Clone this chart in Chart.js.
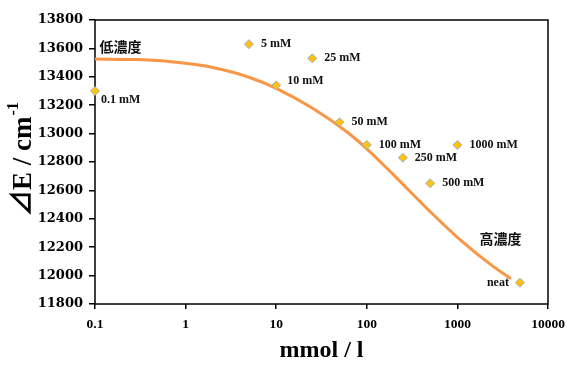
<!DOCTYPE html>
<html>
<head>
<meta charset="utf-8">
<script src="https://cdn.jsdelivr.net/npm/chart.js@4.4.0/dist/chart.umd.min.js"></script>
<style>
  html, body { margin: 0; padding: 0; background: #fff; }
  #wrap { width: 567px; height: 367px; }
</style>
</head>
<body>
<div id="wrap"><canvas id="chart"></canvas></div>
<script>
// measured samples
const sampleLabels = ['0.1 mM', '5 mM', '10 mM', '25 mM', '50 mM', '100 mM', '250 mM', '500 mM', '1000 mM', 'neat'];
const sampleConc = [0.1, 5, 10, 25, 50, 100, 250, 500, 1000, 4900];
const sampleDeltaE = [13300, 13630, 13340, 13530, 13080, 12920, 12830, 12650, 12920, 11950];

// trend curve
const fitConc = [0.1, 0.3, 1, 2, 5, 10, 25, 60, 100, 200, 500, 1000, 2500, 3900];
const fitDeltaE = [13525, 13521, 13495, 13465, 13397, 13319, 13180, 13013, 12893, 12706, 12451, 12270, 12063, 11978];

// axes
const xTicks = [0.1, 1, 10, 100, 1000, 10000];
const yMin = 11800, yMax = 13800, yStep = 200;

// text notes
const lowNote = { text: '低濃度', x: 0.112, y: 13610 };
const highNote = { text: '高濃度', x: 1750, y: 12258 };

const serif = '"Liberation Serif", "Times New Roman", serif';
const cjk = '"Noto Sans CJK JP", "Noto Sans CJK SC", sans-serif';

// label offsets from the point: [dx, dy, align]
const labelPos = { '0.1 mM': [6, 9, 'left'], '10 mM': [11, -4, 'left'], 'neat': [-11, 0, 'right'] };

const extras = {
    id: 'extras',
    beforeDatasetsDraw(chart) {
        const { ctx, chartArea: a } = chart;
        ctx.save();
        ctx.strokeStyle = '#000';
        ctx.lineWidth = 1.5;
        ctx.strokeRect(a.left, a.top, a.right - a.left, a.bottom - a.top);
        ctx.restore();
    },
    afterDatasetsDraw(chart) {
        const { ctx, scales } = chart;
        const meta = chart.getDatasetMeta(1);
        ctx.save();
        ctx.fillStyle = '#111';
        ctx.font = 'bold 12px ' + serif;
        ctx.textBaseline = 'middle';
        meta.data.forEach((pt, i) => {
            const off = labelPos[sampleLabels[i]] || [12, 0, 'left'];
            ctx.textAlign = off[2];
            ctx.fillText(sampleLabels[i], pt.x + off[0], pt.y + off[1]);
        });

        ctx.font = 'bold 14px ' + cjk;
        ctx.textAlign = 'left';
        [lowNote, highNote].forEach(n => {
            ctx.fillText(n.text, scales.x.getPixelForValue(n.x), scales.y.getPixelForValue(n.y));
        });

        // y axis title with superscript
        const titleFont = '"Liberation Serif", "Noto Sans CJK JP", serif';
        const main = '⊿E / cm';
        const sup = '-1';
        ctx.translate(22, 160);
        ctx.rotate(-Math.PI / 2);
        ctx.font = 'bold 27px ' + titleFont;
        const w1 = ctx.measureText(main).width;
        ctx.font = 'bold 16px ' + serif;
        const w2 = ctx.measureText(sup).width;
        const start = -(w1 + w2) / 2;
        ctx.fillStyle = '#000';
        ctx.font = 'bold 27px ' + titleFont;
        ctx.textBaseline = 'alphabetic';
        ctx.fillText(main, start, 9);
        ctx.font = 'bold 16px ' + serif;
        ctx.fillText(sup, start + w1 + 1, -4);
        ctx.restore();
    }
};

const ctx = document.getElementById('chart').getContext('2d');
const chart = new Chart(ctx, {
    type: 'scatter',
    data: {
        datasets: [{
            label: 'fit',
            type: 'line',
            data: fitConc.map((c, i) => ({ x: c, y: fitDeltaE[i] })),
            borderColor: '#F79646',
            borderWidth: 3,
            pointRadius: 0,
            cubicInterpolationMode: 'monotone',
            fill: false,
            order: 2
        }, {
            label: 'samples',
            data: sampleConc.map((c, i) => ({ x: c, y: sampleDeltaE[i] })),
            pointStyle: 'rectRot',
            pointRadius: 4.5,
            backgroundColor: '#FFC20E',
            borderColor: '#9AAFC7',
            borderWidth: 1,
            clip: false,
            order: 1
        }]
    },
    options: {
        responsive: true,
        maintainAspectRatio: false,
        animation: false,
        layout: { padding: { top: 20, right: 19, bottom: 0, left: 0 } },
        plugins: {
            legend: { display: false },
            tooltip: { enabled: false }
        },
        scales: {
            x: {
                type: 'logarithmic',
                min: 0.1,
                max: 10000,
                afterBuildTicks: s => { s.ticks = xTicks.map(v => ({ value: v })); },
                afterFit: s => { s.height = 63; s.paddingLeft = 0; s.paddingRight = 0; },
                border: { display: false },
                grid: { drawOnChartArea: false, drawTicks: true, tickLength: 5, color: '#000', lineWidth: 1.5 },
                ticks: {
                    color: '#000',
                    font: { family: serif, size: 13.5, weight: 'bold' },
                    padding: 7,
                    maxRotation: 0,
                    autoSkip: false,
                    callback: v => String(v)
                },
                title: {
                    display: true,
                    text: 'mmol / l',
                    color: '#000',
                    font: { family: serif, size: 24, weight: 'bold' },
                    padding: { top: 0, bottom: 2 }
                }
            },
            y: {
                min: yMin,
                max: yMax,
                afterFit: s => { s.width = 95; s.paddingTop = 0; s.paddingBottom = 0; },
                border: { display: false },
                grid: { drawOnChartArea: false, drawTicks: true, tickLength: 6, color: '#000', lineWidth: 1.5 },
                ticks: {
                    stepSize: yStep,
                    color: '#000',
                    font: { family: '"DejaVu Serif", serif', size: 13, weight: 'bold' },
                    padding: 6,
                    callback: v => String(v)
                }
            }
        }
    },
    plugins: [extras]
});
</script>
</body>
</html>
